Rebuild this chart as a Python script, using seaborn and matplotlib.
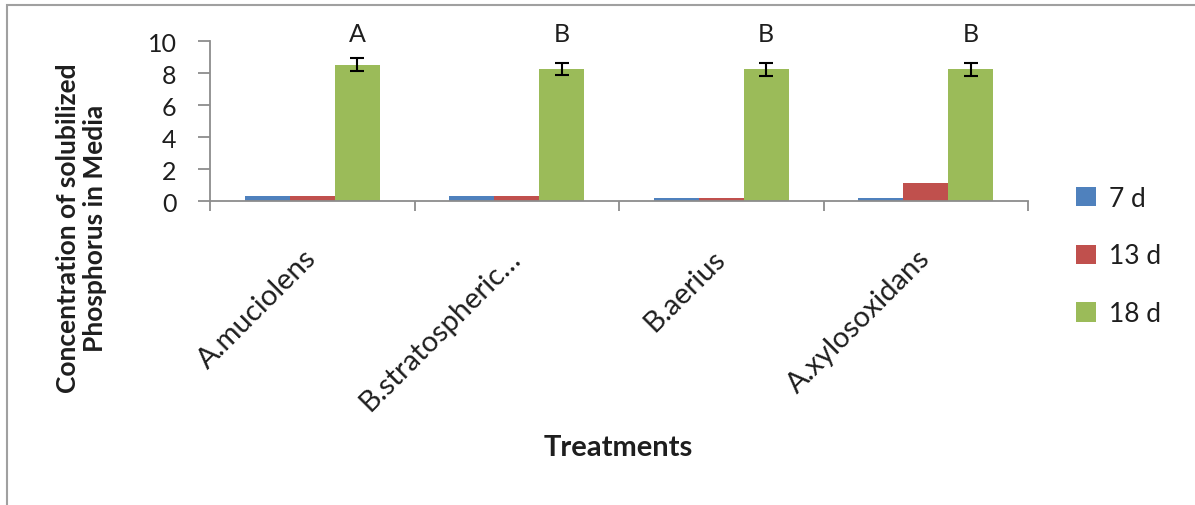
import matplotlib
matplotlib.use("Agg")
import matplotlib.pyplot as plt
from matplotlib.patches import Rectangle
import seaborn as sns
import pandas as pd
import numpy as np

# Solubilized phosphorus by treatment and incubation time
treatments = ["A.muciolens", "B.stratospheric…", "B.aerius", "A.xylosoxidans"]
days = ["7 d", "13 d", "18 d"]
p_7d = [0.3, 0.3, 0.2, 0.2]
p_13d = [0.3, 0.3, 0.2, 1.1]
p_18d = [8.53, 8.23, 8.23, 8.23]
err_18d = [0.38, 0.38, 0.40, 0.40]
letters_18d = ["A", "B", "B", "B"]

colors = ["#4F81BD", "#C0504D", "#9BBB59"]
text_color = "#1E1E1E"

df = pd.DataFrame({
    "Treatment": treatments * 3,
    "Day": [d for d in days for _ in treatments],
    "P": p_7d + p_13d + p_18d,
})

sns.set_theme(style="white")
plt.rcParams["font.family"] = ["Lato", "DejaVu Sans"]

W, H = 1195, 506
fig = plt.figure(figsize=(W / 100, H / 100), dpi=100)
ax = fig.add_axes([210 / W, 1 - 202 / H, (1028 - 210) / W, (202 - 42) / H])

sns.barplot(data=df, x="Treatment", y="P", hue="Day", order=treatments,
            hue_order=days, palette=colors, width=0.66, errorbar=None,
            saturation=1, linewidth=0, edgecolor="none", ax=ax, legend=True)

# Error bars and significance letters on the 18 d bars
green = ax.containers[2]
for bar, e, lab in zip(green, err_18d, letters_18d):
    cx = bar.get_x() + bar.get_width() / 2
    h = bar.get_height()
    ax.errorbar(cx, h, yerr=e, fmt="none", ecolor="black", elinewidth=1.5,
                capsize=5, capthick=1.5, zorder=5)
    ax.text(cx, 10.45, lab, ha="center", va="center", fontsize=18,
            color=text_color, clip_on=False)

ax.set_ylim(0, 10)
ax.set_xlim(-0.5, 3.5)
ax.set_yticks([0, 2, 4, 6, 8, 10])
ax.set_xticks(np.arange(len(treatments)))
ax.set_xticks(np.arange(-0.5, len(treatments), 1.0), minor=True)
ax.set_xticklabels(treatments, rotation=45, ha="right", va="center",
                   rotation_mode="anchor", fontsize=21, color=text_color)
ax.tick_params(axis="x", which="major", length=0, pad=38)
ax.tick_params(axis="x", which="minor", length=7, width=1.3, color="#8C8C8C",
               direction="out", bottom=True)
ax.tick_params(axis="y", length=9, width=1.3, color="#8C8C8C", direction="out",
               left=True, labelsize=18, labelcolor=text_color, pad=15)

for s in ["top", "right"]:
    ax.spines[s].set_visible(False)
for s in ["left", "bottom"]:
    ax.spines[s].set_color("#8C8C8C")
    ax.spines[s].set_linewidth(1.3)

ax.set_xlabel("")
ax.set_ylabel("")

fig.text(82 / W, 1 - 228 / H, "Concentration of solubilized\nPhosphorus in Media",
         rotation=90, ha="center", va="center", fontsize=19, fontweight="bold",
         color=text_color, multialignment="center", linespacing=1.15)
fig.text(618 / W, 1 - 448 / H, "Treatments", ha="center", va="center",
         fontsize=21, fontweight="bold", color=text_color)

leg = ax.legend(loc="center left", bbox_to_anchor=(1076 / W, 1 - 257 / H),
                bbox_transform=fig.transFigure, frameon=False, fontsize=19,
                handlelength=0.76, handleheight=0.76, labelspacing=1.24,
                handletextpad=0.5, borderpad=0, borderaxespad=0)
for t in leg.get_texts():
    t.set_color(text_color)

# Chart area border
fig.patches.append(Rectangle((7 / W, -0.1), 1.2, 1 - 6 / H + 0.1,
                             transform=fig.transFigure, fill=False,
                             edgecolor="#A0A0A0", linewidth=1.5))

fig.savefig("out.png", dpi=100)
